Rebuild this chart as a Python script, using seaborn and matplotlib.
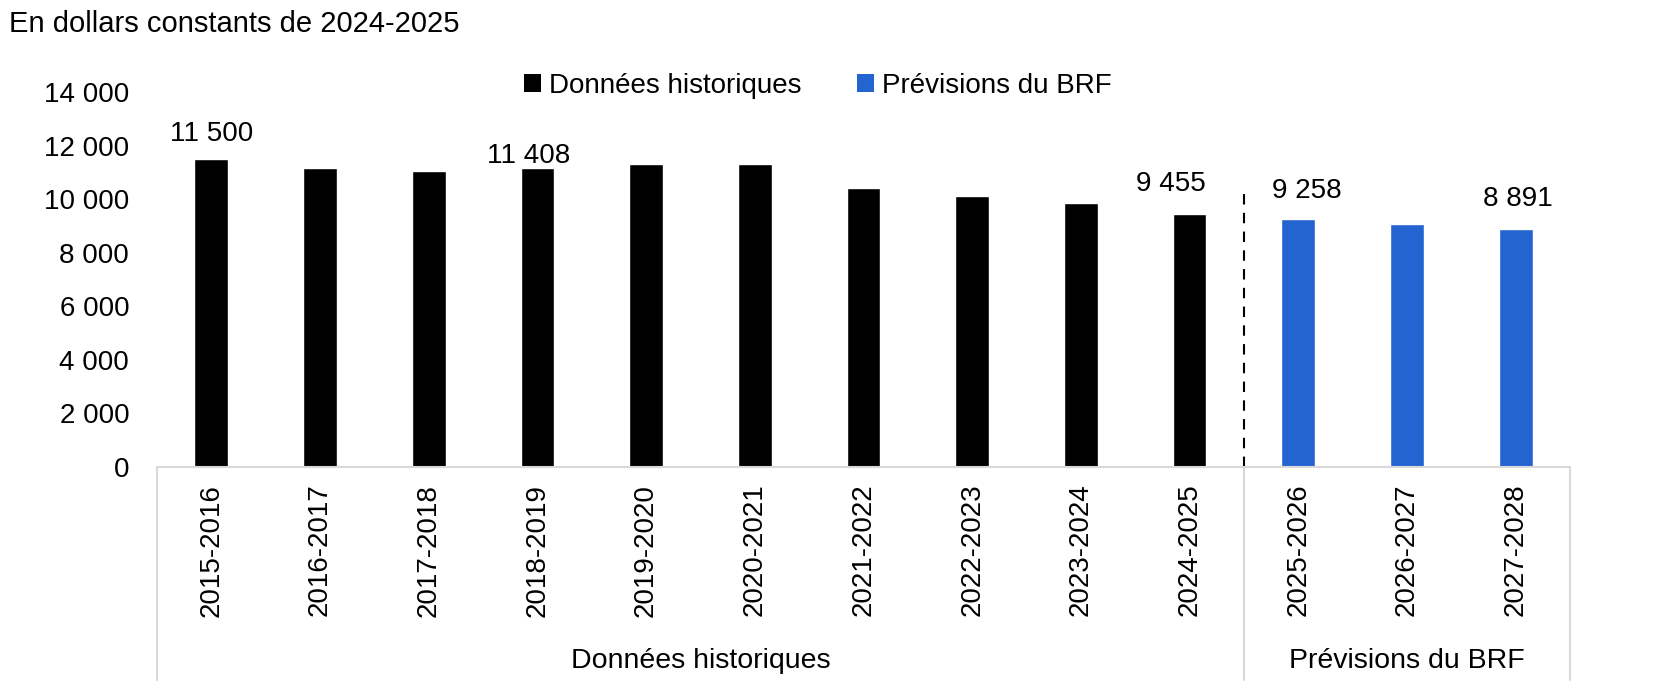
import matplotlib
matplotlib.use("Agg")
import matplotlib.pyplot as plt
from matplotlib.patches import Patch
from matplotlib.ticker import FuncFormatter
import seaborn as sns
import pandas as pd

periodes = ["2015-2016", "2016-2017", "2017-2018", "2018-2019", "2019-2020",
            "2020-2021", "2021-2022", "2022-2023", "2023-2024", "2024-2025",
            "2025-2026", "2026-2027", "2027-2028"]
valeurs = [11500, 11145, 11045, 11150, 11295, 11320, 10400, 10100, 9840, 9455,
           9258, 9070, 8891]
groupes = ["Données historiques"] * 10 + ["Prévisions du BRF"] * 3
etiquettes = {0: "11 500", 3: "11 408", 9: "9 455", 10: "9 258", 12: "8 891"}
etiq_decalage = {0: (0, 25), 3: (-9, 12), 9: (-19, 30), 10: (9, 28), 12: (2, 30)}
couleurs = {"Données historiques": "#000000", "Prévisions du BRF": "#2464D1"}
titre = "En dollars constants de 2024-2025"
y_ticks = [0, 2000, 4000, 6000, 8000, 10000, 12000, 14000]

df = pd.DataFrame({"periode": periodes, "valeur": valeurs, "groupe": groupes})

sns.set_theme(style="white")
plt.rcParams["font.family"] = ["Liberation Sans", "DejaVu Sans"]
plt.rcParams["text.color"] = "black"
plt.rcParams["xtick.color"] = "black"
plt.rcParams["ytick.color"] = "black"
FS = 20

fig = plt.figure(figsize=(16.8, 7.0), dpi=100)
ax = fig.add_axes([157 / 1680, 1 - 467 / 700, (1570 - 157) / 1680, (467 - 92) / 700])

sns.barplot(data=df, x="periode", y="valeur", hue="groupe", palette=couleurs,
            width=0.31, dodge=False, legend=False, ax=ax, saturation=1)

ax.set_xlim(-0.5, len(periodes) - 0.5)
ax.set_ylim(0, 14000)
ax.set_yticks(y_ticks)
ax.yaxis.set_major_formatter(FuncFormatter(lambda v, p: f"{int(v):,}".replace(",", " ")))
ax.set_xlabel("")
ax.set_ylabel("")
ax.tick_params(axis="y", length=0, pad=20, labelsize=FS, labelcolor="black")
ax.tick_params(axis="x", length=0, pad=12, labelsize=FS, labelcolor="black", rotation=90)
for s in ["left", "right", "top"]:
    ax.spines[s].set_visible(False)
ax.spines["bottom"].set_color("#d9d9d9")
ax.spines["bottom"].set_linewidth(1.5)
ax.grid(False)

# separator dashed line
ax.plot([9.5, 9.5], [0, 10380], color="black", linestyle=(0, (5, 4)), linewidth=1.5)

# category group box
trans = ax.get_xaxis_transform()
for xv in [-0.5, 9.5, 12.5]:
    ax.plot([xv, xv], [0, -0.567], transform=trans, color="#d9d9d9", linewidth=1.5, clip_on=False)
ax.text(4.5, -0.517, "Données historiques", transform=trans, ha="center", va="center", fontsize=20.5)
ax.text(11, -0.517, "Prévisions du BRF", transform=trans, ha="center", va="center", fontsize=20.5)

# data labels
for i, txt in etiquettes.items():
    dx, dy = etiq_decalage[i]
    ax.annotate(txt, (i, valeurs[i]), xytext=(dx, dy),
                textcoords="offset pixels", ha="center", va="center", fontsize=FS)

handles = [Patch(facecolor=couleurs[g], edgecolor="none", label=g) for g in couleurs]
fig.legend(handles=handles, loc="center", bbox_to_anchor=(0.487, 1 - 86 / 700), ncol=2,
           frameon=False, fontsize=FS, handlelength=0.6, handleheight=0.6,
           handletextpad=0.3, columnspacing=2.0)

fig.text(9 / 1680, 1 - 24 / 700, titre, ha="left", va="center", fontsize=21)

fig.savefig("out.png", dpi=100)
